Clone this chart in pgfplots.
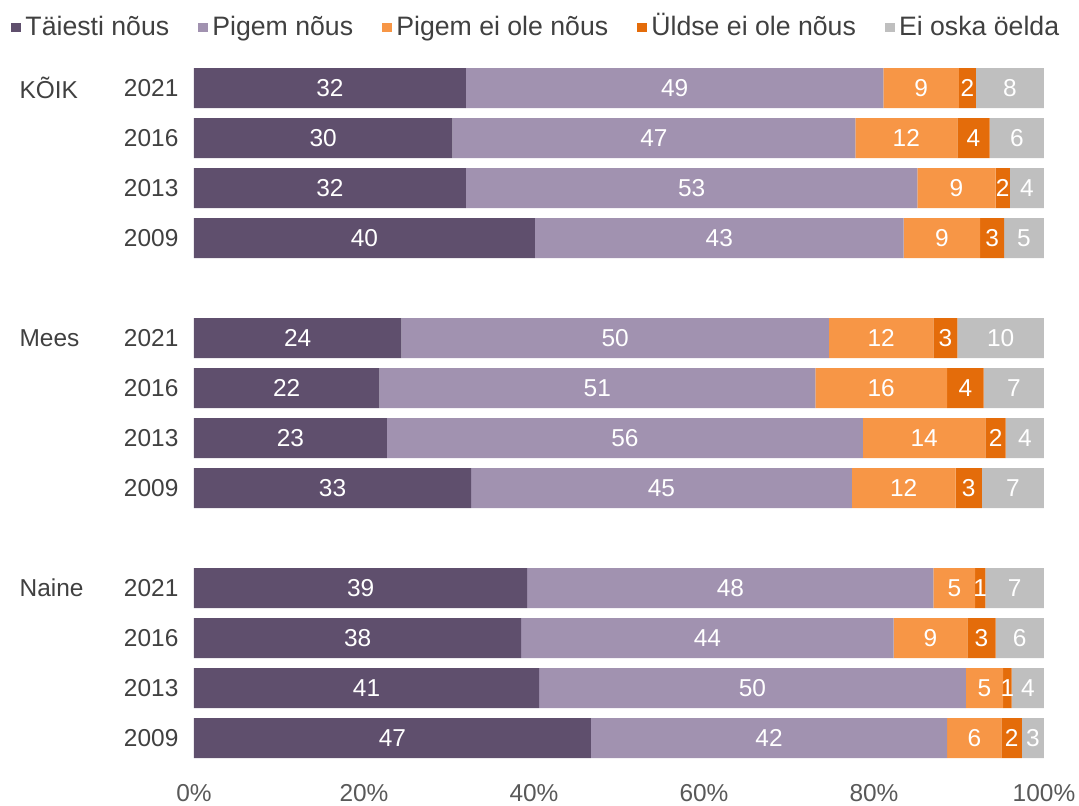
\documentclass[border=0pt]{standalone}
\usepackage{pgfplots}
\pgfplotsset{compat=1.18}
\usepackage{pgfplotstable}
\usepackage{fontspec}
\setmainfont{Liberation Sans}
\usetikzlibrary{calc}
\definecolor{cA}{HTML}{5F4F6D}
\definecolor{cB}{HTML}{A192B0}
\definecolor{cC}{HTML}{F79646}
\definecolor{cD}{HTML}{E46C0A}
\definecolor{cE}{HTML}{BFBFBF}
\definecolor{txt}{HTML}{404040}
\definecolor{tick}{HTML}{595959}

\pgfplotstableread{
y  a    b    c    d   e    la lb lc ld le
0  32.0 49.1 8.9  2.0 8.0  32 49 9  2  8
1  30.4 47.4 12.0 3.8 6.4  30 47 12 4  6
2  32.0 53.1 9.2  1.7 4.0  32 53 9  2  4
3  40.1 43.4 9.0  2.8 4.7  40 43 9  3  5
5  24.4 50.3 12.3 2.8 10.2 24 50 12 3  10
6  21.8 51.3 15.5 4.3 7.1  22 51 16 4  7
7  22.7 56.0 14.4 2.4 4.5  23 56 14 2  4
8  32.6 44.8 12.2 3.1 7.3  33 45 12 3  7
10 39.2 47.8 4.9  1.2 6.9  39 48 5  1  7
11 38.5 43.8 8.7  3.3 5.7  38 44 9  3  6
12 40.6 50.2 4.4  1.0 3.8  41 50 5  1  4
13 46.7 41.9 6.4  2.4 2.6  47 42 6  2  3
}\data

\begin{document}
\begin{tikzpicture}[font=\fontsize{11}{13}\selectfont]
\begin{axis}[name=ax,
  xbar stacked, scale only axis, clip=false,
  width=382.5pt, height=315pt,
  xmin=0, xmax=100, ymin=-0.5, ymax=13.5, y dir=reverse,
  bar width=18pt,
  axis line style={draw=none}, tick style={draw=none},
  xtick={0,20,...,100},
  xticklabel={\pgfmathprintnumber{\tick}\%},
  ytick={0,1,2,3,5,6,7,8,10,11,12,13},
  yticklabels={2021,2016,2013,2009,2021,2016,2013,2009,2021,2016,2013,2009},
  /pgf/number format/assume math mode=true,
  xticklabel style={text=tick, yshift=-6pt},
  yticklabel style={text=txt, xshift=-3.5pt},
  point meta=explicit symbolic,
  nodes near coords,
  every node near coord/.append style={anchor=center, text=white, font=\fontsize{11}{13}\selectfont},
  legend columns=5,
  legend style={draw=none, fill=none, at={(0.5,1)}, anchor=center, xshift=-36.7pt, yshift=16pt,
    text=txt, inner sep=0pt, font=\fontsize{12}{14}\selectfont,
    nodes={text height=1.6ex, text depth=0.3ex},
    /tikz/every even column/.append style={column sep=11pt}},
  legend image code/.code={\fill[#1] (0pt,-2.2pt) rectangle (4.4pt,2.2pt);},
]
\addplot[fill=cA, draw=none] table[x=a, y=y, meta=la] {\data};
\addplot[fill=cB, draw=none] table[x=b, y=y, meta=lb] {\data};
\addplot[fill=cC, draw=none] table[x=c, y=y, meta=lc] {\data};
\addplot[fill=cD, draw=none] table[x=d, y=y, meta=ld] {\data};
\addplot[fill=cE, draw=none] table[x=e, y=y, meta=le] {\data};
\legend{Täiesti nõus, Pigem nõus, Pigem ei ole nõus, Üldse ei ole nõus, Ei oska öelda}
\node[anchor=west, text=txt] at ([xshift=-82pt]axis cs:0,0) {KÕIK};
\node[anchor=west, text=txt] at ([xshift=-82pt]axis cs:0,5) {Mees};
\node[anchor=west, text=txt] at ([xshift=-82pt]axis cs:0,10) {Naine};
\end{axis}
\pgfresetboundingbox
\path ($(ax.south west)+(-87.3pt,-18.9pt)$) rectangle ($(ax.north east)+(15.75pt,28.35pt)$);
\end{tikzpicture}
\end{document}
